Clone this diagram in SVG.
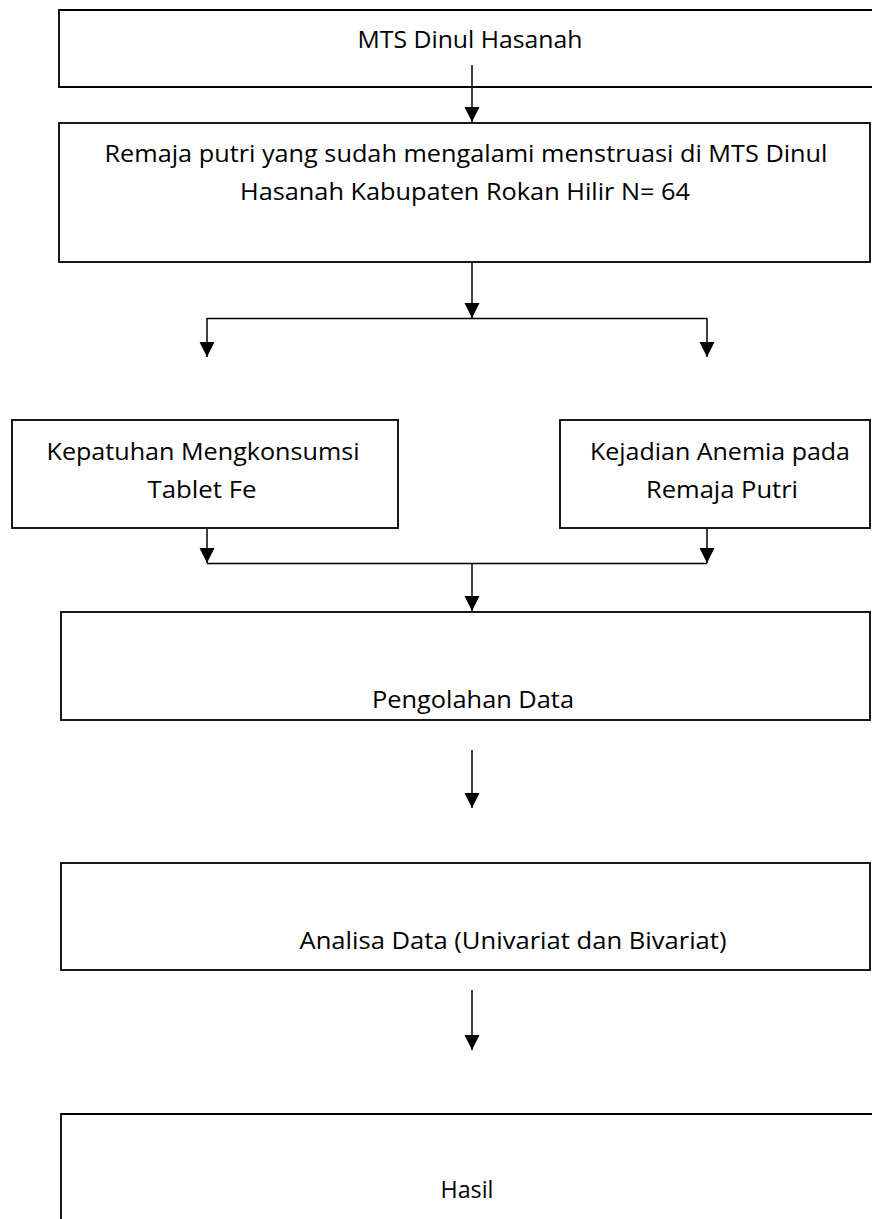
<svg xmlns="http://www.w3.org/2000/svg" width="872" height="1219" viewBox="0 0 872 1219">
<style>
.box{fill:#fff;stroke:#000;stroke-width:1.8}
.ln{fill:none;stroke:#000;stroke-width:1.5}
.t{font-family:"Open Sans","Noto Sans",sans-serif;font-size:24.5px;fill:#000;text-anchor:middle}
</style>
<defs>
<marker id="ah" markerUnits="userSpaceOnUse" markerWidth="16" markerHeight="16" refX="15" refY="7.5" orient="auto">
<path d="M0,0 L15,7.5 L0,15 Z" fill="#000"/>
</marker>
</defs>
<rect width="872" height="1219" fill="#fff"/>
<g id="n1"><path class="box" d="M880,10 H59 V87 H880"/><text class="t" x="470" y="48" textLength="225" lengthAdjust="spacingAndGlyphs">MTS Dinul Hasanah</text></g>
<g id="n2"><rect class="box" x="59" y="123" width="811" height="139"/><text class="t" x="466" y="162" textLength="723" lengthAdjust="spacingAndGlyphs">Remaja putri yang sudah mengalami menstruasi di MTS Dinul</text><text class="t" x="465" y="200" textLength="450" lengthAdjust="spacingAndGlyphs">Hasanah Kabupaten Rokan Hilir N= 64</text></g>
<g id="n3"><rect class="box" x="12" y="420" width="386" height="108"/><text class="t" x="203" y="460" textLength="313" lengthAdjust="spacingAndGlyphs">Kepatuhan Mengkonsumsi</text><text class="t" x="202" y="498" textLength="109" lengthAdjust="spacingAndGlyphs">Tablet Fe</text></g>
<g id="n4"><rect class="box" x="560" y="420" width="310" height="108"/><text class="t" x="720" y="460" textLength="260" lengthAdjust="spacingAndGlyphs">Kejadian Anemia pada</text><text class="t" x="722" y="498" textLength="152" lengthAdjust="spacingAndGlyphs">Remaja Putri</text></g>
<g id="n5"><rect class="box" x="61" y="612" width="809" height="108"/><text class="t" x="473" y="708" textLength="202" lengthAdjust="spacingAndGlyphs">Pengolahan Data</text></g>
<g id="n6"><rect class="box" x="61" y="863" width="809" height="107"/><text class="t" x="513" y="949" textLength="427" lengthAdjust="spacingAndGlyphs">Analisa Data (Univariat dan Bivariat)</text></g>
<g id="n7"><path class="box" d="M880,1114 H61 V1230"/><text class="t" x="467" y="1198" textLength="53" lengthAdjust="spacingAndGlyphs">Hasil</text></g>
<g id="connectors">
<line class="ln" x1="472" y1="65" x2="472" y2="122" marker-end="url(#ah)"/>
<line class="ln" x1="472" y1="262" x2="472" y2="318" marker-end="url(#ah)"/>
<line class="ln" x1="207" y1="318.5" x2="707" y2="318.5"/>
<line class="ln" x1="207" y1="318" x2="207" y2="357" marker-end="url(#ah)"/>
<line class="ln" x1="707" y1="318" x2="707" y2="357" marker-end="url(#ah)"/>
<line class="ln" x1="207" y1="528" x2="207" y2="563" marker-end="url(#ah)"/>
<line class="ln" x1="707" y1="528" x2="707" y2="563" marker-end="url(#ah)"/>
<line class="ln" x1="207" y1="563.5" x2="707" y2="563.5"/>
<line class="ln" x1="472" y1="563" x2="472" y2="611" marker-end="url(#ah)"/>
<line class="ln" x1="472" y1="750" x2="472" y2="808" marker-end="url(#ah)"/>
<line class="ln" x1="472" y1="990" x2="472" y2="1050" marker-end="url(#ah)"/>
</g>
</svg>
